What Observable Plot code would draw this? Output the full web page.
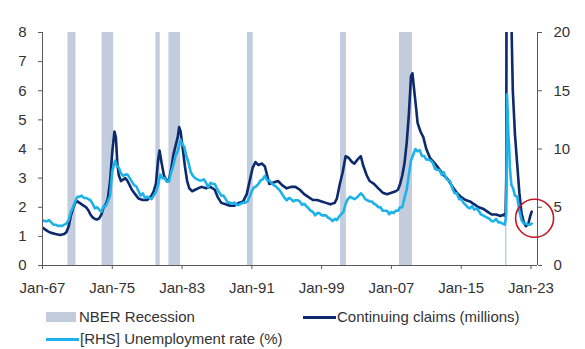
<!DOCTYPE html>
<html>
<head>
<meta charset="utf-8">
<script src="https://cdn.jsdelivr.net/npm/d3@7"></script>
<script src="https://cdn.jsdelivr.net/npm/@observablehq/plot@0.6"></script>
<style>
  html, body { margin: 0; padding: 0; background: #fff; }
  #wrap { position: relative; width: 585px; height: 349px; font-family: "Liberation Sans", Arial, sans-serif; color: #333; }
  #legend { position: absolute; left: 0; top: 300px; width: 585px; height: 49px; font-size: 15px; }
  .item { position: absolute; white-space: nowrap; line-height: 18px; }
  .sw { position: absolute; }
</style>
</head>
<body>
<div id="wrap">
  <div id="chart"></div>
  <div id="legend"></div>
</div>
<script>
// NBER recessions (start, end)
const recessionStarts = ["1969-12", "1973-11", "1980-01", "1981-07", "1990-07", "2001-03", "2007-12", "2020-02"];
const recessionEnds   = ["1970-11", "1975-03", "1980-07", "1982-11", "1991-03", "2001-11", "2009-06", "2020-04"];

// Continuing claims (millions)
const claimsDates = [
  "1967-01","1967-04","1967-07","1967-10","1968-01","1968-07","1969-01","1969-07","1969-10",
  "1970-01","1970-04","1970-07","1970-10","1971-01","1971-04","1971-07","1971-10",
  "1972-01","1972-04","1972-07","1972-10","1973-01","1973-04","1973-07","1973-10",
  "1974-01","1974-04","1974-07","1974-10","1975-01","1975-04","1975-06","1975-08","1975-10",
  "1976-01","1976-04","1976-07","1976-10","1977-01","1977-04","1977-07","1977-10",
  "1978-01","1978-07","1979-01","1979-07","1979-10","1980-01","1980-04","1980-06","1980-09","1980-12",
  "1981-04","1981-07","1981-10","1982-01","1982-04","1982-07","1982-09","1982-11",
  "1983-02","1983-05","1983-08","1983-11","1984-03","1984-07","1984-11","1985-04","1985-10",
  "1986-04","1986-10","1987-02","1987-07","1988-01","1988-07","1989-01","1989-07",
  "1990-01","1990-06","1990-10","1991-02","1991-06","1991-10","1992-03","1992-07","1992-10",
  "1993-01","1993-07","1994-01","1994-07","1995-01","1995-07","1996-01","1996-07",
  "1997-01","1997-07","1998-01","1998-07","1999-01","1999-07","2000-01","2000-07","2000-10",
  "2001-02","2001-06","2001-10","2002-02","2002-07","2002-10","2003-03","2003-07","2003-10",
  "2004-03","2004-07","2005-01","2005-07","2006-01","2006-07","2007-01","2007-07","2007-10",
  "2008-01","2008-04","2008-07","2008-10","2009-01","2009-04","2009-06","2009-08","2009-11",
  "2010-01","2010-05","2010-09","2011-01","2011-06","2012-01","2012-07","2013-01","2013-07",
  "2014-01","2014-07","2015-01","2015-07","2016-01","2016-07","2017-01","2017-07",
  "2018-01","2018-07","2019-01","2019-07","2019-12","2020-02","2020-03","2020-04","2020-06",
  "2020-08","2020-10","2020-12","2021-03","2021-06","2021-09","2021-12","2022-03","2022-06",
  "2022-09","2022-12","2023-02"
];
const claimsValues = [
  1.30,1.25,1.20,1.15,1.12,1.08,1.05,1.08,1.15,
  1.35,1.70,1.95,2.15,2.20,2.15,2.10,2.05,
  2.00,1.90,1.75,1.65,1.60,1.58,1.62,1.75,
  2.00,2.10,2.30,2.90,3.90,4.60,4.40,3.50,3.10,
  2.90,2.95,3.00,2.90,2.75,2.60,2.50,2.40,
  2.30,2.25,2.25,2.40,2.55,2.80,3.60,3.95,3.50,3.10,
  2.90,2.95,3.30,3.80,4.10,4.40,4.75,4.60,
  4.00,3.40,2.90,2.65,2.55,2.60,2.65,2.70,2.65,
  2.70,2.60,2.35,2.15,2.10,2.05,2.05,2.15,
  2.20,2.45,2.90,3.35,3.55,3.45,3.50,3.40,3.10,
  2.80,2.85,2.90,2.75,2.65,2.70,2.70,2.60,
  2.45,2.35,2.25,2.25,2.20,2.15,2.10,2.15,2.30,
  2.80,3.20,3.75,3.70,3.55,3.50,3.65,3.75,3.45,
  3.10,2.90,2.80,2.65,2.50,2.45,2.50,2.55,2.60,
  2.80,3.10,3.50,4.20,5.20,6.50,6.60,6.10,5.40,
  4.90,4.60,4.40,4.00,3.70,3.50,3.30,3.10,2.95,
  2.70,2.50,2.35,2.25,2.20,2.10,2.00,1.95,
  1.85,1.75,1.75,1.70,1.75,1.70,3.00,18.0,17.0,
  13.0,8.50,6.00,4.50,3.50,2.50,1.80,1.50,1.35,
  1.40,1.70,1.85
];

// [RHS] Unemployment rate (%)
const unempDates = [
  "1967-01","1967-04","1967-07","1967-10","1968-01","1968-04","1968-07","1968-10",
  "1969-01","1969-04","1969-07","1969-10","1970-01","1970-04","1970-07","1970-10",
  "1971-01","1971-04","1971-07","1971-10","1972-01","1972-04","1972-07","1972-10",
  "1973-01","1973-04","1973-07","1973-10","1974-01","1974-04","1974-07","1974-10",
  "1975-01","1975-05","1975-07","1975-10","1976-01","1976-04","1976-07","1976-10",
  "1977-01","1977-04","1977-07","1977-10","1978-01","1978-04","1978-07","1978-10",
  "1979-01","1979-04","1979-07","1979-10","1980-01","1980-04","1980-07","1980-10",
  "1981-01","1981-04","1981-07","1981-10","1982-01","1982-04","1982-07","1982-11",
  "1983-01","1983-04","1983-07","1983-10","1984-01","1984-04","1984-07","1984-10",
  "1985-01","1985-04","1985-07","1985-10","1986-01","1986-04","1986-07","1986-10",
  "1987-01","1987-04","1987-07","1987-10","1988-01","1988-04","1988-07","1988-10",
  "1989-01","1989-04","1989-07","1989-10","1990-01","1990-04","1990-07","1990-10",
  "1991-01","1991-04","1991-07","1991-10","1992-01","1992-04","1992-07","1992-10",
  "1993-01","1993-04","1993-07","1993-10","1994-01","1994-04","1994-07","1994-10",
  "1995-01","1995-04","1995-07","1995-10","1996-01","1996-04","1996-07","1996-10",
  "1997-01","1997-04","1997-07","1997-10","1998-01","1998-04","1998-07","1998-10",
  "1999-01","1999-04","1999-07","1999-10","2000-01","2000-04","2000-07","2000-10",
  "2001-01","2001-04","2001-07","2001-10","2002-01","2002-04","2002-07","2002-10",
  "2003-01","2003-04","2003-07","2003-10","2004-01","2004-04","2004-07","2004-10",
  "2005-01","2005-04","2005-07","2005-10","2006-01","2006-04","2006-07","2006-10",
  "2007-01","2007-04","2007-07","2007-10","2008-01","2008-04","2008-07","2008-10",
  "2009-01","2009-04","2009-07","2009-10","2010-01","2010-04","2010-07","2010-10",
  "2011-01","2011-04","2011-07","2011-10","2012-01","2012-04","2012-07","2012-10",
  "2013-01","2013-04","2013-07","2013-10","2014-01","2014-04","2014-07","2014-10",
  "2015-01","2015-04","2015-07","2015-10","2016-01","2016-04","2016-07","2016-10",
  "2017-01","2017-04","2017-07","2017-10","2018-01","2018-04","2018-07","2018-10",
  "2019-01","2019-04","2019-07","2019-10","2020-01","2020-03","2020-04","2020-05",
  "2020-06","2020-07","2020-08","2020-10","2020-12","2021-03","2021-06","2021-09",
  "2021-12","2022-03","2022-06","2022-09","2022-12","2023-02"
];
const unempValues = [
  3.9,3.8,3.8,3.9,3.7,3.5,3.5,3.4,
  3.4,3.4,3.5,3.6,3.9,4.6,5.0,5.5,
  5.9,5.9,6.0,5.8,5.8,5.7,5.6,5.3,
  4.9,5.0,4.8,4.6,5.1,5.1,5.5,6.0,
  8.1,9.0,8.6,8.4,7.9,7.7,7.8,7.8,
  7.5,7.2,6.9,6.8,6.4,6.0,6.2,5.8,
  5.9,5.8,5.7,6.0,6.3,6.9,7.8,7.5,
  7.5,7.2,7.2,8.0,8.6,9.4,9.8,10.8,
  10.4,10.2,9.4,8.8,8.0,7.7,7.5,7.4,
  7.3,7.3,7.4,7.1,6.7,7.1,7.0,7.0,
  6.6,6.3,6.0,6.0,5.7,5.4,5.4,5.3,
  5.4,5.2,5.2,5.3,5.4,5.4,5.5,5.9,
  6.4,6.7,6.8,7.0,7.3,7.4,7.7,7.3,
  7.3,7.1,6.9,6.8,6.6,6.4,6.1,5.8,
  5.6,5.8,5.7,5.5,5.6,5.6,5.5,5.2,
  5.3,5.1,4.9,4.7,4.6,4.3,4.5,4.5,
  4.3,4.3,4.3,4.1,4.0,3.8,4.0,3.9,
  4.2,4.4,4.6,5.3,5.7,5.9,5.8,5.7,
  5.8,6.0,6.2,6.0,5.7,5.6,5.5,5.5,
  5.3,5.2,5.0,5.0,4.7,4.7,4.7,4.4,
  4.6,4.5,4.7,4.7,5.0,5.0,5.8,6.5,
  7.8,9.0,9.5,10.0,9.8,9.9,9.4,9.4,
  9.1,9.1,9.0,8.8,8.3,8.2,8.2,7.8,
  8.0,7.5,7.3,7.2,6.6,6.2,6.2,5.7,
  5.7,5.4,5.2,5.0,4.9,5.1,4.8,4.9,
  4.7,4.4,4.3,4.2,4.1,4.0,3.8,3.8,
  4.0,3.7,3.7,3.6,3.5,4.4,14.7,13.2,
  11.0,10.2,8.4,6.9,6.7,6.0,5.9,4.7,
  3.9,3.6,3.6,3.5,3.5,3.6
];

// Tick labels
const xTickYears = [1967, 1975, 1983, 1991, 1999, 2007, 2015, 2023];
const leftTicks = [0, 1, 2, 3, 4, 5, 6, 7, 8];
const rightTicks = [0, 5, 10, 15, 20];

// Annotation (red circle) centre
const circleDate = "2023-06";
const circleValue = 1.62;

const parse = d3.utcParse("%Y-%m");
const recessions = recessionStarts.map((s, i) => ({start: parse(s), end: parse(recessionEnds[i])}));
const claims = claimsDates.map((d, i) => ({date: parse(d), value: claimsValues[i]}));
const unemp = unempDates.map((d, i) => ({date: parse(d), value: unempValues[i]}));
const RATIO = 8 / 20; // right axis -> left axis

const x0 = new Date(Date.UTC(1967, 0, 1));
const x1 = new Date(Date.UTC(2023, 9, 1));

const DARK = "#0c2a6c";
const LIGHT = "#1eb2ea";
const BAND = "#c2ccdd";
const AXIS = "#595959";

const chart = Plot.plot({
  width: 585,
  height: 300,
  marginTop: 32,
  marginBottom: 35,
  marginLeft: 42,
  marginRight: 48,
  style: {fontFamily: "'Liberation Sans', Arial, sans-serif", fontSize: "15px", color: "#333", background: "#fff", overflow: "visible"},
  x: {type: "utc", domain: [x0, x1], label: null},
  y: {domain: [0, 8], label: null},
  marks: [
    Plot.rect(recessions, {x1: "start", x2: "end", fill: BAND}),
    Plot.lineY(claims, {x: "date", y: "value", stroke: DARK, strokeWidth: 2.6, clip: true, strokeLinejoin: "round"}),
    Plot.lineY(unemp, {x: "date", y: d => d.value * RATIO, stroke: LIGHT, strokeWidth: 2.6, clip: true, strokeLinejoin: "round"}),
    Plot.ruleX([x0], {stroke: AXIS, strokeWidth: 1}),
    Plot.ruleX([x1], {stroke: AXIS, strokeWidth: 1}),
    Plot.ruleY([0], {stroke: AXIS, strokeWidth: 1}),
    Plot.axisY(leftTicks, {anchor: "left", label: null, tickSize: 4, tickPadding: 12, stroke: AXIS, fill: "#333", fontSize: 15}),
    Plot.axisY(rightTicks.map(v => v * RATIO), {anchor: "right", label: null, tickSize: 4, tickPadding: 12, stroke: AXIS, fill: "#333", fontSize: 15, tickFormat: v => String(Math.round(v / RATIO))}),
    Plot.axisX(xTickYears.map(y => new Date(Date.UTC(y, 0, 1))), {anchor: "bottom", label: null, tickSize: 4, tickPadding: 13, stroke: AXIS, fill: "#333", fontSize: 15, tickFormat: d3.utcFormat("%b-%y")}),
    Plot.dot([{date: parse(circleDate), value: circleValue}], {x: "date", y: "value", r: 19, stroke: "#c0182a", strokeWidth: 1.6, fill: "none"})
  ]
});
document.getElementById("chart").appendChild(chart);

// Legend
const legendItems = [
  {label: "NBER Recession", kind: "band", color: BAND, left: 46, top: 12},
  {label: "Continuing claims (millions)", kind: "line", color: DARK, left: 303, top: 12},
  {label: "[RHS] Unemployment rate (%)", kind: "line", color: LIGHT, left: 46, top: 34}
];
const legend = document.getElementById("legend");
for (const it of legendItems) {
  const sw = document.createElement("div");
  sw.className = "sw";
  sw.style.left = it.left + "px";
  if (it.kind === "band") {
    sw.style.top = (it.top) + "px";
    sw.style.width = "30px";
    sw.style.height = "10px";
  } else {
    sw.style.top = (it.top + 4) + "px";
    sw.style.width = "33px";
    sw.style.height = "3px";
  }
  sw.style.background = it.color;
  legend.appendChild(sw);
  const t = document.createElement("div");
  t.className = "item";
  t.style.left = (it.left + (it.kind === "band" ? 33 : 34)) + "px";
  t.style.top = (it.top - 4) + "px";
  t.textContent = it.label;
  legend.appendChild(t);
}
</script>
</body>
</html>
